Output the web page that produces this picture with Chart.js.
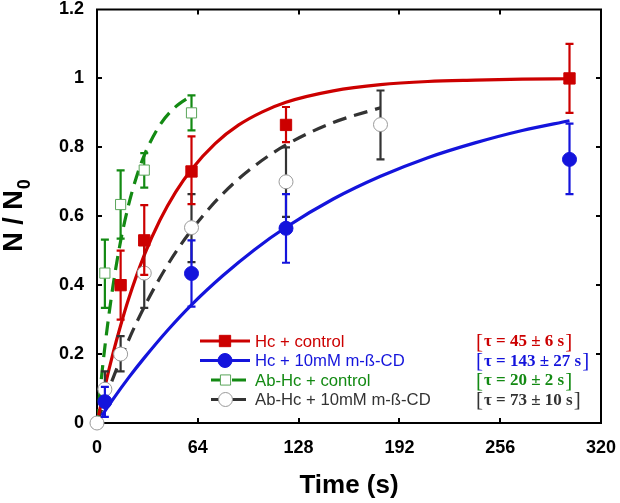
<!DOCTYPE html>
<html><head><meta charset="utf-8">
<script src="https://cdn.jsdelivr.net/npm/chart.js@4/dist/chart.umd.min.js"></script>
<style>html,body{margin:0;padding:0;background:#fff}</style>
</head><body>
<div style="width:620px;height:503px"><canvas id="c" width="620" height="503" style="width:620px;height:503px;display:block"></canvas></div>
<script>
// ---- axis ticks ----
const xTicks = [0, 64, 128, 192, 256, 320];
const yTicks = [0, 0.2, 0.4, 0.6, 0.8, 1, 1.2];
const yTickLabels = ['0', '0.2', '0.4', '0.6', '0.8', '1', '1.2'];
const xTitle = 'Time (s)';

// ---- series names and fit labels ----
const seriesNames = ['Hc + control', 'Hc + 10mM m-ß-CD', 'Ab-Hc + control', 'Ab-Hc + 10mM m-ß-CD'];
const tauLabels = ['τ = 45 ± 6 s', 'τ = 143 ± 27 s', 'τ = 20 ± 2 s', 'τ = 73 ± 10 s'];

// ---- measured points (time, N/N0, error low, error high) ----
const hcCtrlT  = [15, 30, 60, 120, 300];
const hcCtrlY  = [0.40, 0.53, 0.73, 0.865, 1.0];
const hcCtrlLo = [0.30, 0.43, 0.635, 0.815, 0.90];
const hcCtrlHi = [0.50, 0.632, 0.832, 0.917, 1.10];

const hcCdT  = [5, 60, 120, 300];
const hcCdY  = [0.062, 0.434, 0.565, 0.765];
const hcCdLo = [0.018, 0.338, 0.465, 0.664];
const hcCdHi = [0.105, 0.53, 0.664, 0.869];

const abCtrlT  = [5, 15, 30, 60];
const abCtrlY  = [0.435, 0.634, 0.734, 0.90];
const abCtrlLo = [0.334, 0.535, 0.683, 0.849];
const abCtrlHi = [0.532, 0.733, 0.783, 0.951];

const abCdT  = [0, 5, 15, 30, 60, 120, 180];
const abCdY  = [0, 0.098, 0.20, 0.435, 0.567, 0.70, 0.866];
const abCdLo = [null, 0.05, 0.15, 0.334, 0.467, 0.598, 0.765];
const abCdHi = [null, 0.15, 0.252, 0.52, 0.664, 0.80, 0.965];

// ---- fitted curves ----
const hcCtrlFitT = [1, 5, 10, 15, 20, 30, 40, 50, 60, 75, 90, 105, 120, 150, 180, 210, 240, 270, 300];
const hcCtrlFitY = [0.022, 0.105, 0.199, 0.283, 0.359, 0.487, 0.589, 0.671, 0.736, 0.811, 0.865, 0.903, 0.931, 0.964, 0.982, 0.991, 0.995, 0.998, 0.999];

const hcCdFitT = [3, 10, 20, 30, 45, 60, 80, 100, 120, 150, 180, 210, 240, 270, 300];
const hcCdFitY = [0.021, 0.068, 0.131, 0.189, 0.270, 0.343, 0.428, 0.503, 0.568, 0.650, 0.716, 0.770, 0.813, 0.849, 0.877];

const abCtrlFitT = [0, 2, 5, 10, 15, 20, 25, 30, 40, 50, 60];
const abCtrlFitY = [0, 0.095, 0.221, 0.393, 0.528, 0.632, 0.713, 0.777, 0.865, 0.918, 0.950];

const abCdFitT = [0, 5, 10, 20, 30, 45, 60, 80, 100, 120, 150, 180];
const abCdFitY = [0, 0.066, 0.128, 0.240, 0.337, 0.460, 0.560, 0.666, 0.746, 0.807, 0.872, 0.915];

// ---- styles ----
const RED = '#cc0000', BLUE = '#1414dc', GREEN = '#138a13', DARK = '#333333';
const colors = [RED, BLUE, GREEN, DARK];
const zip = (xs, ys) => xs.map((x, i) => ({x: x, y: ys[i]}));

const pointSets = [
  {label: seriesNames[0], data: zip(hcCtrlT, hcCtrlY), errLo: hcCtrlLo, errHi: hcCtrlHi, errColor: RED,
   pointStyle: 'rect', pointRadius: 8, backgroundColor: RED, borderColor: RED, borderWidth: 1},
  {label: seriesNames[1], data: zip(hcCdT, hcCdY), errLo: hcCdLo, errHi: hcCdHi, errColor: BLUE,
   pointStyle: 'circle', pointRadius: 7, backgroundColor: BLUE, borderColor: BLUE, borderWidth: 1},
  {label: seriesNames[2], data: zip(abCtrlT, abCtrlY), errLo: abCtrlLo, errHi: abCtrlHi, errColor: GREEN,
   pointStyle: 'rect', pointRadius: 7.2, backgroundColor: '#ffffff', borderColor: '#5aa55a', borderWidth: 1},
  {label: seriesNames[3], data: zip(abCdT, abCdY), errLo: abCdLo, errHi: abCdHi, errColor: DARK,
   pointStyle: 'circle', pointRadius: 7, backgroundColor: '#ffffff', borderColor: '#9a9a9a', borderWidth: 1}
].map(d => Object.assign(d, {showLine: false, order: 0, clip: false, pointHoverRadius: d.pointRadius}));

const fitSets = [
  {data: zip(hcCtrlFitT, hcCtrlFitY), borderColor: RED, borderDash: []},
  {data: zip(hcCdFitT, hcCdFitY), borderColor: BLUE, borderDash: []},
  {data: zip(abCtrlFitT, abCtrlFitY), borderColor: GREEN, borderDash: [14, 8]},
  {data: zip(abCdFitT, abCdFitY), borderColor: DARK, borderDash: [14, 8]}
].map(d => Object.assign(d, {showLine: true, pointRadius: 0, borderWidth: 3.2, order: 1,
  cubicInterpolationMode: 'monotone', fill: false, label: ''}));

// ---- plugins ----
const framePlugin = {
  id: 'frame',
  beforeDatasetsDraw(chart) {
    const {ctx, chartArea: a, scales: {x, y}} = chart;
    ctx.save();
    ctx.strokeStyle = '#000'; ctx.lineWidth = 2;
    ctx.strokeRect(a.left, a.top, a.right - a.left, a.bottom - a.top);
    ctx.beginPath();
    const L = 5;
    xTicks.forEach(v => {
      const px = Math.round(x.getPixelForValue(v));
      if (px <= a.left + 1 || px >= a.right - 1) return;
      ctx.moveTo(px, a.bottom); ctx.lineTo(px, a.bottom - L);
      ctx.moveTo(px, a.top); ctx.lineTo(px, a.top + L);
    });
    yTicks.forEach(v => {
      const py = Math.round(y.getPixelForValue(v));
      if (py <= a.top + 1 || py >= a.bottom - 1) return;
      ctx.moveTo(a.left, py); ctx.lineTo(a.left + L, py);
      ctx.moveTo(a.right, py); ctx.lineTo(a.right - L, py);
    });
    ctx.stroke();
    ctx.restore();
  }
};

const errorBarPlugin = {
  id: 'errbars',
  beforeDatasetDraw(chart, args) {
    const ds = chart.data.datasets[args.index];
    if (!ds.errLo) return;
    const {ctx, scales: {x, y}} = chart;
    ctx.save();
    ctx.strokeStyle = ds.errColor; ctx.lineWidth = 2.2;
    ctx.beginPath();
    ds.data.forEach((p, i) => {
      const lo = ds.errLo[i], hi = ds.errHi[i];
      if (lo == null) return;
      const px = x.getPixelForValue(p.x), y1 = y.getPixelForValue(lo), y2 = y.getPixelForValue(hi);
      ctx.moveTo(px, y1); ctx.lineTo(px, y2);
      ctx.moveTo(px - 4, y1); ctx.lineTo(px + 4, y1);
      ctx.moveTo(px - 4, y2); ctx.lineTo(px + 4, y2);
    });
    ctx.stroke();
    ctx.restore();
  }
};

function drawMarker(ctx, ds, x, y) {
  ctx.save();
  ctx.fillStyle = ds.backgroundColor; ctx.strokeStyle = ds.borderColor; ctx.lineWidth = ds.borderWidth;
  ctx.beginPath();
  if (ds.pointStyle === 'rect') {
    const s = ds.pointRadius * Math.SQRT1_2;
    ctx.rect(x - s, y - s, 2 * s, 2 * s);
  } else {
    ctx.arc(x, y, ds.pointRadius, 0, Math.PI * 2);
  }
  ctx.fill(); ctx.stroke();
  ctx.restore();
}

const legendPlugin = {
  id: 'customLegend',
  afterDatasetsDraw(chart) {
    const ctx = chart.ctx;
    const ds = chart.data.datasets;
    const rowY = [341, 360.5, 380, 399.5];
    ctx.save();
    for (let i = 0; i < 4; i++) {
      const p = ds[i], f = ds[4 + i], yy = rowY[i];
      ctx.strokeStyle = f.borderColor; ctx.lineWidth = 3;
      ctx.beginPath();
      if (f.borderDash.length) {
        ctx.moveTo(211, yy); ctx.lineTo(220, yy);
        ctx.moveTo(232, yy); ctx.lineTo(246, yy);
      } else {
        ctx.moveTo(200, yy); ctx.lineTo(250, yy);
      }
      ctx.stroke();
      drawMarker(ctx, p, i < 2 ? 225 : 225.5, yy);
      ctx.fillStyle = colors[i];
      ctx.font = '16.7px "Liberation Sans", Arial, sans-serif';
      ctx.textBaseline = 'middle'; ctx.textAlign = 'left';
      ctx.fillText(p.label, 255, yy + 1);
      // fit constant in brackets
      let tx = 476;
      ctx.font = '21px "Liberation Serif", "Times New Roman", serif';
      ctx.fillText('[', tx, yy + 1);
      tx += ctx.measureText('[').width + 1;
      ctx.font = 'bold 17px "Liberation Serif", "Times New Roman", serif';
      ctx.fillText(tauLabels[i], tx, yy + 1);
      tx += ctx.measureText(tauLabels[i]).width + 1;
      ctx.font = '21px "Liberation Serif", "Times New Roman", serif';
      ctx.fillText(']', tx, yy + 1);
    }
    ctx.restore();
  }
};

const titlePlugin = {
  id: 'axisTitles',
  afterDraw(chart) {
    const {ctx, chartArea: a} = chart;
    ctx.save();
    ctx.fillStyle = '#000';
    ctx.font = 'bold 26px "Liberation Sans", Arial, sans-serif';
    ctx.textAlign = 'center'; ctx.textBaseline = 'alphabetic';
    ctx.fillText(xTitle, (a.left + a.right) / 2, 493);
    // y title with subscript
    ctx.translate(22, 216);
    ctx.rotate(-Math.PI / 2);
    ctx.textAlign = 'left';
    const main = 'N / N', sub = '0';
    ctx.font = 'bold 27px "Liberation Sans", Arial, sans-serif';
    const w1 = ctx.measureText(main).width;
    ctx.font = 'bold 18px "Liberation Sans", Arial, sans-serif';
    const w2 = ctx.measureText(sub).width;
    const start = -(w1 + w2) / 2;
    ctx.font = 'bold 27px "Liberation Sans", Arial, sans-serif';
    ctx.fillText(main, start, 0);
    ctx.font = 'bold 18px "Liberation Sans", Arial, sans-serif';
    ctx.fillText(sub, start + w1 + 1, 8);
    ctx.restore();
  }
};

Chart.defaults.font.family = '"Liberation Sans", Arial, sans-serif';
Chart.defaults.color = '#000';

new Chart(document.getElementById('c'), {
  type: 'scatter',
  data: {datasets: pointSets.concat(fitSets)},
  options: {
    responsive: false,
    animation: false,
    events: [],
    layout: {padding: {left: 0, right: 19, top: 9.5, bottom: 0}},
    plugins: {legend: {display: false}, tooltip: {enabled: false}, title: {display: false}},
    scales: {
      x: {
        type: 'linear', min: 0, max: 320,
        afterBuildTicks: s => { s.ticks = xTicks.map(v => ({value: v})); },
        afterFit: s => { s.height = 80; s.paddingLeft = 0; s.paddingRight = 0; },
        grid: {display: false, drawTicks: false},
        border: {display: false},
        ticks: {padding: 16, font: {size: 18, weight: 'bold', lineHeight: 1}, maxRotation: 0, autoSkip: false,
          callback: v => String(v)}
      },
      y: {
        type: 'linear', min: 0, max: 1.2,
        afterBuildTicks: s => { s.ticks = yTicks.map(v => ({value: v})); },
        afterFit: s => { s.width = 97; s.paddingTop = 0; s.paddingBottom = 0; },
        grid: {display: false, drawTicks: false},
        border: {display: false},
        ticks: {padding: 13, font: {size: 18, weight: 'bold', lineHeight: 1}, autoSkip: false,
          callback: (v, i) => yTickLabels[i]}
      }
    }
  },
  plugins: [framePlugin, errorBarPlugin, legendPlugin, titlePlugin]
});
</script>
</body></html>
